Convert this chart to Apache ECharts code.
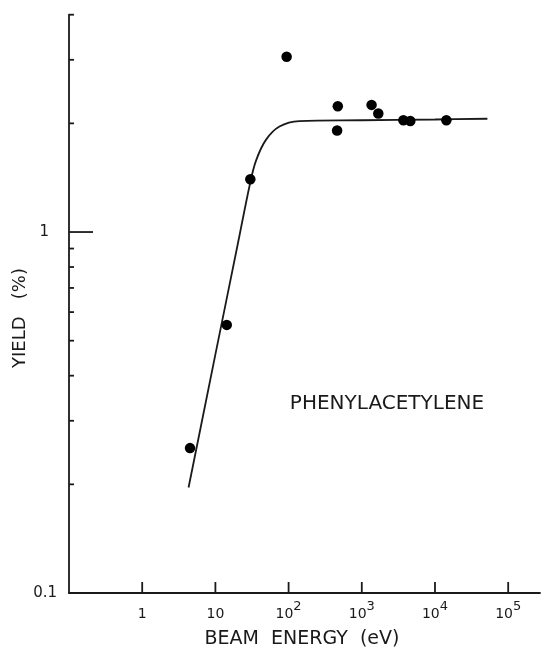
<!DOCTYPE html>
<html>
<head>
<meta charset="utf-8">
<script src="https://cdn.jsdelivr.net/npm/echarts@6/dist/echarts.min.js"></script>
<style>
  html, body { margin: 0; padding: 0; background: #fff; }
  #chart { width: 541px; height: 650px; }
</style>
</head>
<body>
<div id="chart"></div>
<script>
// Measured yield of phenylacetylene versus beam energy
const energy = [4.5, 14.3, 30, 94, 470, 460, 1360, 1680, 3700, 4600, 14300];
const yieldPct = [0.252, 0.553, 1.40, 3.06, 2.23, 1.91, 2.25, 2.13, 2.04, 2.03, 2.04];

// Hand-drawn trend curve through the data
const fitEnergy = [4.3, 10, 20, 30, 36, 49, 75, 140, 1000, 10000, 52000];
const fitYield = [0.196, 0.458, 0.916, 1.374, 1.58, 1.80, 1.96, 2.03, 2.04, 2.05, 2.06];

// Axis ranges and tick positions
const xRange = [0.1, 272000];
const yRange = [0.1, 4];
const xMajorTicks = [1, 10, 100, 1000, 10000, 100000];
const yMajorTicks = [1];
const yMinorTicks = [0.2, 0.3, 0.4, 0.5, 0.6, 0.7, 0.8, 0.9, 2, 3, 4];

const ink = '#1a1a1a';
const font = 'DejaVu Sans';

function isPow10(v) {
  const l = Math.log10(v);
  return Math.abs(l - Math.round(l)) < 1e-6;
}

// Short tick marks drawn from the axis into the plot
function tickSeries(values, horizontal, len) {
  return {
    type: 'custom',
    silent: true,
    clip: false,
    z: 5,
    data: values.map(v => horizontal ? [xRange[0], v] : [v, yRange[0]]),
    renderItem: function (params, api) {
      const p = api.coord([api.value(0), api.value(1)]);
      const shape = horizontal
        ? { x1: p[0], y1: p[1], x2: p[0] + len, y2: p[1] }
        : { x1: p[0], y1: p[1], x2: p[0], y2: p[1] - len };
      return { type: 'line', shape: shape, style: { stroke: ink, lineWidth: 1.8 } };
    }
  };
}

const chart = echarts.init(document.getElementById('chart'), null, { renderer: 'canvas' });

chart.setOption({
  animation: false,
  backgroundColor: '#fff',
  grid: { left: 69, right: 1, top: 14.7, bottom: 57, containLabel: false },
  xAxis: {
    type: 'log',
    logBase: 10,
    min: xRange[0],
    max: xRange[1],
    interval: 1,
    axisLine: { show: true, lineStyle: { color: ink, width: 1.8 } },
    axisTick: { show: false },
    splitLine: { show: false },
    axisLabel: {
      show: true,
      showMinLabel: false,
      showMaxLabel: false,
      margin: 12,
      color: ink,
      fontFamily: font,
      fontSize: 14,
      formatter: function (v) {
        if (!isPow10(v)) return '';
        const e = Math.round(Math.log10(v));
        if (e < 0) return '';
        if (e === 0) return '{b|1}';
        if (e === 1) return '{b|10}';
        return '{b|10}{sup|' + e + '}';
      },
      rich: {
        b: { fontFamily: font, fontSize: 14, color: ink, verticalAlign: 'bottom', lineHeight: 16 },
        sup: { fontFamily: font, fontSize: 13, color: ink, verticalAlign: 'bottom', lineHeight: 16, padding: [0, 0, 8, 0] }
      }
    }
  },
  yAxis: {
    type: 'log',
    logBase: 10,
    min: yRange[0],
    max: yRange[1],
    interval: 1,
    axisLine: { show: true, lineStyle: { color: ink, width: 1.8 } },
    axisTick: { show: false },
    splitLine: { show: false },
    axisLabel: {
      show: true,
      margin: 12,
      color: ink,
      fontFamily: font,
      fontSize: 15,
      formatter: function (v) {
        if (Math.abs(v - 0.1) < 1e-9) return '0.1';
        if (Math.abs(v - 1) < 1e-9) return '{one|1}';
        return '';
      },
      rich: {
        one: { fontFamily: font, fontSize: 15, color: ink, padding: [0, 8, 0, 0] }
      }
    }
  },
  series: [
    {
      name: 'trend',
      type: 'line',
      data: fitEnergy.map((x, i) => [x, fitYield[i]]),
      smooth: 0.35,
      showSymbol: false,
      symbol: 'none',
      lineStyle: { color: ink, width: 1.8 },
      z: 3
    },
    {
      name: 'yield',
      type: 'scatter',
      data: energy.map((x, i) => [x, yieldPct[i]]),
      symbol: 'circle',
      symbolSize: 10.5,
      itemStyle: { color: '#000', opacity: 1 },
      z: 4
    },
    tickSeries(yMinorTicks, true, 5),
    tickSeries(yMajorTicks, true, 24),
    tickSeries(xMajorTicks, false, 11)
  ],
  graphic: [
    {
      type: 'text',
      style: {
        text: 'PHENYLACETYLENE',
        x: 387, y: 404,
        align: 'center', verticalAlign: 'middle',
        font: '20px "DejaVu Sans"',
        fill: ink
      }
    },
    {
      type: 'text',
      style: {
        text: 'BEAM  ENERGY  (eV)',
        x: 302, y: 639,
        align: 'center', verticalAlign: 'middle',
        font: '19px "DejaVu Sans"',
        fill: ink
      }
    },
    {
      type: 'text',
      x: 20, y: 318,
      rotation: Math.PI / 2,
      style: {
        text: 'YIELD   (%)',
        x: 0, y: 0,
        align: 'center', verticalAlign: 'middle',
        font: '18px "DejaVu Sans"',
        fill: ink
      }
    }
  ]
});
</script>
</body>
</html>
